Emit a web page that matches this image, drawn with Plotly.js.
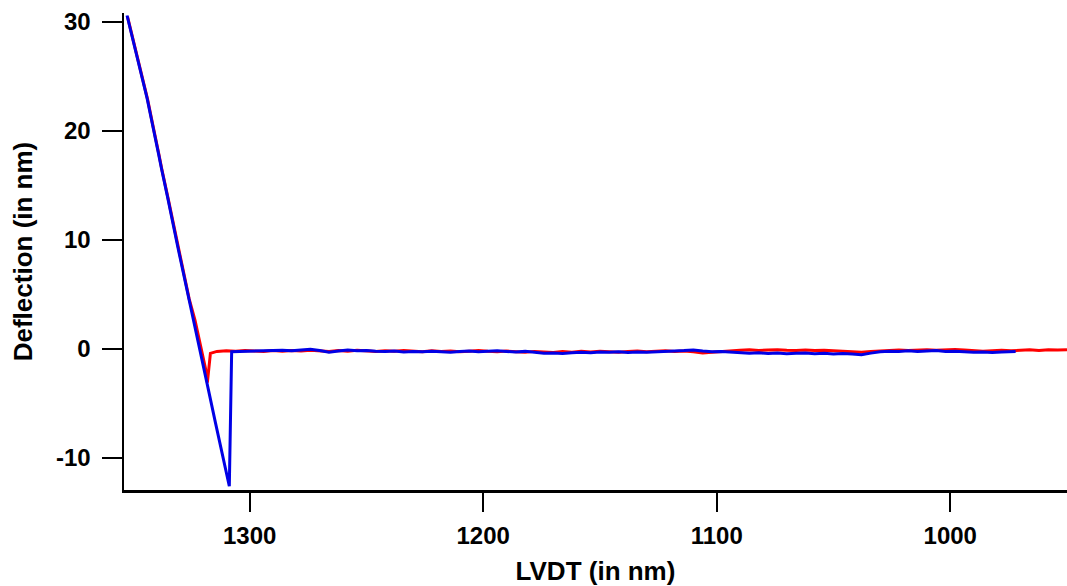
<!DOCTYPE html>
<html>
<head>
<meta charset="utf-8">
<script src="https://cdn.plot.ly/plotly-3.0.1.min.js"></script>
<style>
html,body{margin:0;padding:0;background:#fff;}
#chart{width:1067px;height:586px;}
</style>
</head>
<body>
<div id="chart"></div>
<script>
// Retract (blue) curve: LVDT (nm) and deflection (nm)
const blueX = [1352.5, 1350.8, 1348.9, 1347.6, 1345.9, 1343.9, 1341.8, 1340.6, 1339.0, 1337.8, 1336.2, 1335.0, 1330.8, 1326.3, 1322.7, 1318.4, 1314.6, 1310.9, 1309.6, 1308.7, 1307.7,
  1306, 1302, 1298, 1294, 1290, 1286, 1282, 1278, 1274, 1270, 1266, 1262, 1258, 1254, 1250, 1246, 1242, 1238, 1234, 1230,
  1226, 1222, 1218, 1214, 1210, 1206, 1202, 1198, 1194, 1190, 1186, 1182, 1178, 1174, 1170, 1166, 1162, 1158, 1154, 1150,
  1146, 1142, 1138, 1134, 1130, 1126, 1122, 1118, 1114, 1110, 1106, 1102, 1098, 1094, 1090, 1086, 1082, 1078, 1074, 1070,
  1066, 1062, 1058, 1054, 1050, 1046, 1042, 1038, 1034, 1030, 1026, 1022, 1018, 1014, 1010, 1006, 1002, 998, 994, 990,
  986, 982, 978, 974, 972];
const blueY = [30.6, 29.1, 27.5, 26.3, 25.0, 23.0, 20.8, 19.4, 17.9, 16.6, 15.1, 13.8, 9.4, 4.8, 1.3, -3.0, -6.8, -10.5, -11.7, -12.6, -0.25,
  -0.24, -0.28, -0.22, -0.20, -0.16, -0.12, -0.17, -0.09, -0.02, -0.14, -0.29, -0.18, -0.10, -0.16, -0.13, -0.20, -0.24, -0.19, -0.27, -0.22,
  -0.26, -0.20, -0.25, -0.30, -0.23, -0.19, -0.26, -0.21, -0.17, -0.23, -0.28, -0.22, -0.33, -0.40, -0.36, -0.42, -0.35, -0.30, -0.34, -0.27,
  -0.31, -0.25, -0.33, -0.28, -0.30, -0.24, -0.22, -0.18, -0.15, -0.10, -0.19, -0.26, -0.22, -0.28, -0.34, -0.39, -0.35, -0.42, -0.38, -0.44,
  -0.40, -0.36, -0.43, -0.39, -0.45, -0.41, -0.47, -0.52, -0.38, -0.25, -0.20, -0.24, -0.17, -0.22, -0.19, -0.15, -0.23, -0.20, -0.26, -0.31,
  -0.27, -0.33, -0.28, -0.24, -0.22];

// Approach (red) curve
const redX = [1352.3, 1350.6, 1348.7, 1347.4, 1345.7, 1343.7, 1341.6, 1340.4, 1338.8, 1337.6, 1336.0, 1334.8, 1330.5, 1325.9, 1323.4, 1321.25, 1319.8, 1318.9, 1318.1, 1317.4, 1316.8,
  1314, 1310, 1306, 1302, 1298, 1294, 1290, 1286, 1282, 1278, 1274, 1270, 1266, 1262, 1258, 1254, 1250, 1246, 1242, 1238,
  1234, 1230, 1226, 1222, 1218, 1214, 1210, 1206, 1202, 1198, 1194, 1190, 1186, 1182, 1178, 1174, 1170, 1166, 1162, 1158,
  1154, 1150, 1146, 1142, 1138, 1134, 1130, 1126, 1122, 1118, 1114, 1110, 1106, 1102, 1098, 1094, 1090, 1086, 1082, 1078,
  1074, 1070, 1066, 1062, 1058, 1054, 1050, 1046, 1042, 1038, 1034, 1030, 1026, 1022, 1018, 1014, 1010, 1006, 1002, 998,
  994, 990, 986, 982, 978, 974, 970, 966, 962, 958, 954, 950];
const redY = [30.5, 29.0, 27.4, 26.2, 24.9, 22.9, 20.7, 19.3, 17.8, 16.5, 15.0, 13.7, 9.3, 4.6, 2.66, 0.52, -0.7, -1.8, -3.09, -1.2, -0.4,
  -0.22, -0.16, -0.20, -0.14, -0.19, -0.23, -0.15, -0.20, -0.13, -0.18, -0.11, -0.16, -0.22, -0.14, -0.20, -0.12, -0.18, -0.23, -0.16, -0.21,
  -0.15, -0.20, -0.26, -0.17, -0.22, -0.18, -0.25, -0.20, -0.14, -0.21, -0.26, -0.19, -0.24, -0.30, -0.22, -0.27, -0.32, -0.24, -0.29, -0.21,
  -0.27, -0.20, -0.25, -0.31, -0.23, -0.19, -0.26, -0.21, -0.17, -0.23, -0.19, -0.26, -0.37, -0.30, -0.22, -0.16, -0.12, -0.08, -0.13, -0.10,
  -0.06, -0.11, -0.14, -0.09, -0.15, -0.11, -0.17, -0.21, -0.26, -0.30, -0.24, -0.18, -0.13, -0.09, -0.14, -0.10, -0.06, -0.12, -0.08, -0.04,
  -0.10, -0.15, -0.20, -0.16, -0.12, -0.17, -0.11, -0.08, -0.13, -0.07, -0.10, -0.06];

const xTicks = [1300, 1200, 1100, 1000];
const yTicks = [-10, 0, 10, 20, 30];
const xTitle = 'LVDT (in nm)';
const yTitle = 'Deflection (in nm)';

const fontFam = 'Arial, "Liberation Sans", sans-serif';

const traces = [
  {x: redX, y: redY, type: 'scatter', mode: 'lines', name: 'Approach',
   line: {color: '#ff0000', width: 3}},
  {x: blueX, y: blueY, type: 'scatter', mode: 'lines', name: 'Retract',
   line: {color: '#0000e6', width: 3}}
];

const layout = {
  width: 1067, height: 586,
  margin: {l: 124, r: 0, t: 13, b: 96},
  paper_bgcolor: '#ffffff', plot_bgcolor: '#ffffff',
  showlegend: false,
  font: {family: fontFam, color: '#000'},
  xaxis: {
    range: [1353.8, 950.0], autorange: false,
    tickvals: xTicks, ticktext: xTicks.map(String),
    ticks: 'outside', ticklen: 19, tickwidth: 2, tickcolor: '#000',
    showline: true, linecolor: '#000', linewidth: 2.5,
    showgrid: false, zeroline: false,
    tickfont: {family: fontFam, size: 24, weight: 'bold', color: '#000'},
    ticklabelstandoff: 4,
    title: {text: xTitle, font: {family: fontFam, size: 26, weight: 'bold', color: '#000'}, standoff: 26}
  },
  yaxis: {
    range: [-12.94, 30.83], autorange: false,
    tickvals: yTicks, ticktext: yTicks.map(String),
    ticks: 'outside', ticklen: 20, tickwidth: 2, tickcolor: '#000',
    showline: true, linecolor: '#000', linewidth: 2.5,
    showgrid: false, zeroline: false,
    tickfont: {family: fontFam, size: 24, weight: 'bold', color: '#000'},
    ticklabelstandoff: 6,
    title: {text: yTitle, font: {family: fontFam, size: 26, weight: 'bold', color: '#000'}, standoff: 16}
  }
};

Plotly.newPlot('chart', traces, layout, {staticPlot: true, displayModeBar: false});
</script>
</body>
</html>
